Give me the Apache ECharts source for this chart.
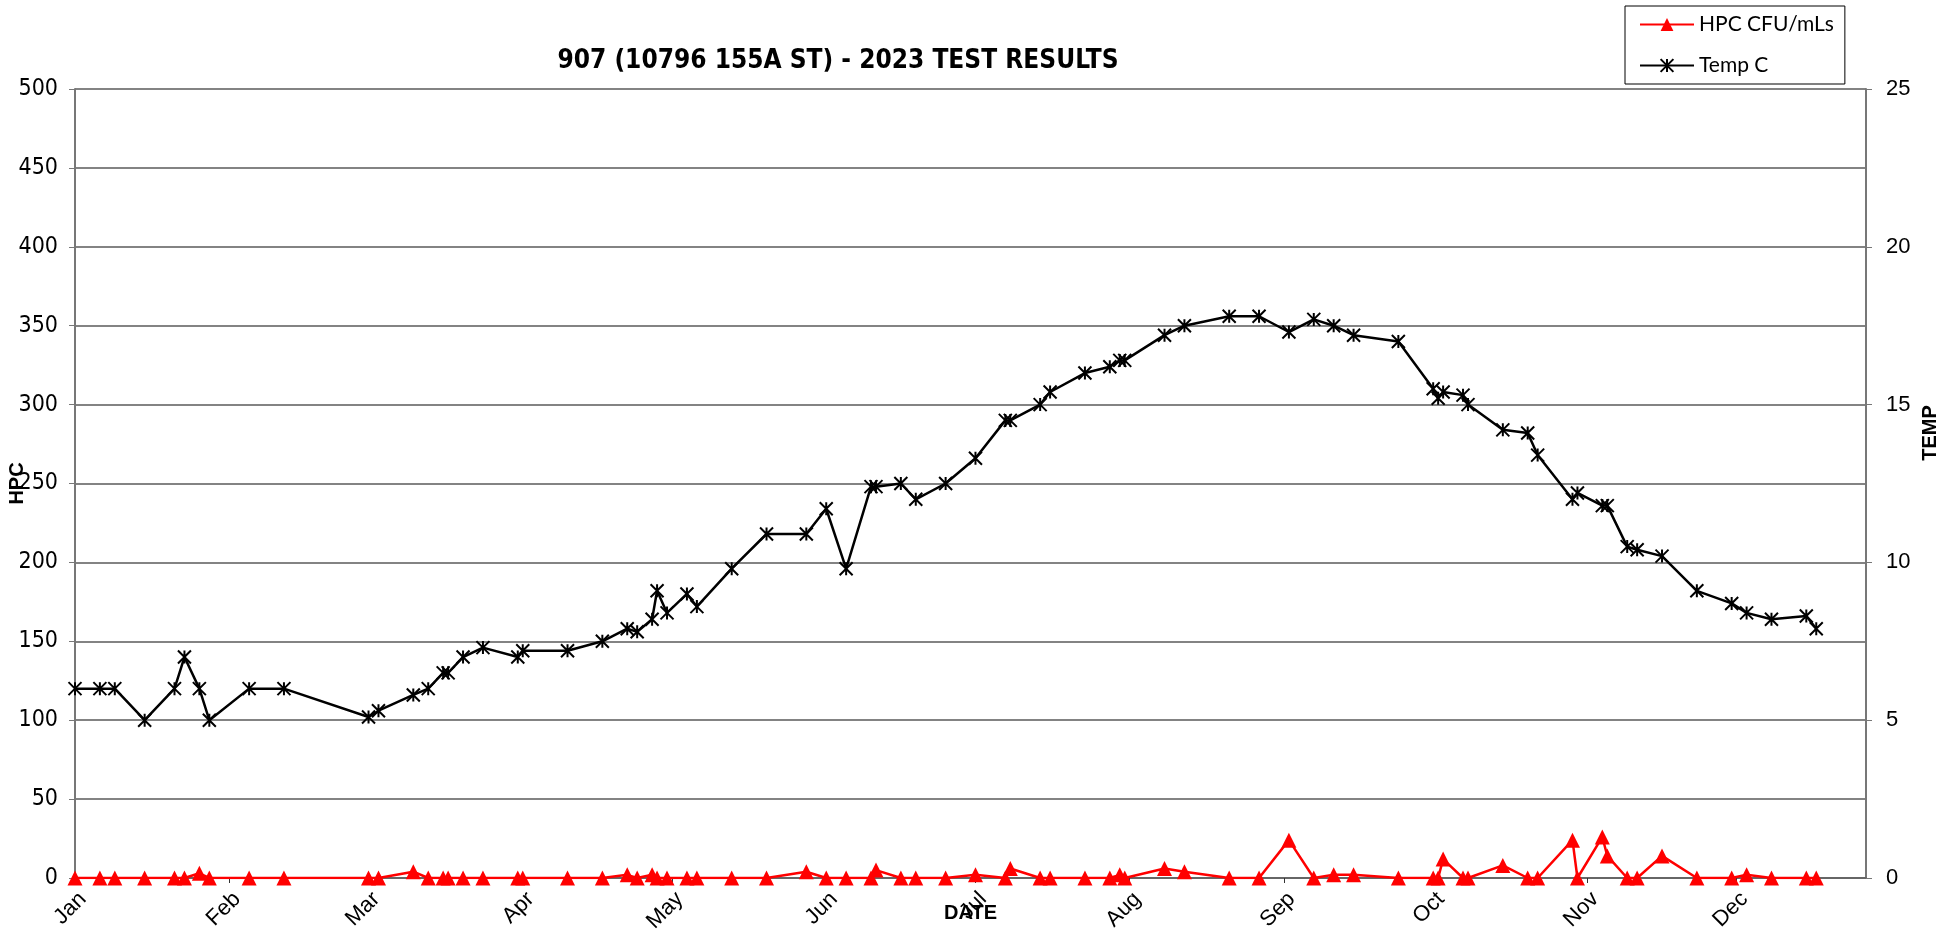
<!DOCTYPE html>
<html>
<head>
<meta charset="utf-8">
<title>907 (10796 155A ST) - 2023 TEST RESULTS</title>
<script src="https://cdn.jsdelivr.net/npm/echarts@6/dist/echarts.min.js"></script>
<style>
  html, body { margin: 0; padding: 0; background: #fff; }
  #myChart { width: 1956px; height: 935px; }
</style>
</head>
<body>
<div id="myChart"></div>
<script>
// month ticks on the date axis
const monthNames = ['Jan', 'Feb', 'Mar', 'Apr', 'May', 'Jun', 'Jul', 'Aug', 'Sep', 'Oct', 'Nov', 'Dec']
const monthTicks = ['2023-01-01', '2023-02-01', '2023-03-01', '2023-04-01', '2023-05-01', '2023-06-01',
  '2023-07-01', '2023-08-01', '2023-09-01', '2023-10-01', '2023-11-01', '2023-12-01']

// sampling days
const sampleDates = [
  '2023-01-01', '2023-01-06', '2023-01-09', '2023-01-15', '2023-01-21', '2023-01-23', '2023-01-26', '2023-01-28',
  '2023-02-05', '2023-02-12',
  '2023-03-01', '2023-03-03', '2023-03-10', '2023-03-13', '2023-03-16', '2023-03-17', '2023-03-20', '2023-03-24', '2023-03-31',
  '2023-04-01', '2023-04-10', '2023-04-17', '2023-04-22', '2023-04-24', '2023-04-27', '2023-04-28', '2023-04-30',
  '2023-05-04', '2023-05-06', '2023-05-13', '2023-05-20', '2023-05-28',
  '2023-06-01', '2023-06-05', '2023-06-10', '2023-06-11', '2023-06-16', '2023-06-19', '2023-06-25',
  '2023-07-01', '2023-07-07', '2023-07-08', '2023-07-14', '2023-07-16', '2023-07-23', '2023-07-28', '2023-07-30', '2023-07-31',
  '2023-08-08', '2023-08-12', '2023-08-21', '2023-08-27',
  '2023-09-02', '2023-09-07', '2023-09-11', '2023-09-15', '2023-09-24',
  '2023-10-01', '2023-10-02', '2023-10-03', '2023-10-07', '2023-10-08', '2023-10-15', '2023-10-20', '2023-10-22', '2023-10-29', '2023-10-30',
  '2023-11-04', '2023-11-05', '2023-11-09', '2023-11-11', '2023-11-16', '2023-11-23', '2023-11-30',
  '2023-12-03', '2023-12-08', '2023-12-15', '2023-12-17'
]

// HPC CFU/mLs
const hpcValues = [
  0, 0, 0, 0, 0, 0, 3, 0,
  0, 0,
  0, 0, 4, 0, 0, 0, 0, 0, 0,
  0, 0, 0, 2, 0, 2, 0, 0,
  0, 0, 0, 0, 4,
  0, 0, 0, 5, 0, 0, 0,
  2, 0, 6, 0, 0, 0, 0, 2, 0,
  6, 4, 0, 0,
  24, 0, 2, 2, 0,
  0, 0, 12, 0, 0, 8, 0, 0, 24, 0,
  26, 14, 0, 0, 14, 0, 0,
  2, 0, 0, 0
]

// Temp C
const tempValues = [
  6.0, 6.0, 6.0, 5.0, 6.0, 7.0, 6.0, 5.0,
  6.0, 6.0,
  5.1, 5.3, 5.8, 6.0, 6.5, 6.5, 7.0, 7.3, 7.0,
  7.2, 7.2, 7.5, 7.9, 7.8, 8.2, 9.1, 8.4,
  9.0, 8.6, 9.8, 10.9, 10.9,
  11.7, 9.8, 12.4, 12.4, 12.5, 12.0, 12.5,
  13.3, 14.5, 14.5, 15.0, 15.4, 16.0, 16.2, 16.4, 16.4,
  17.2, 17.5, 17.8, 17.8,
  17.3, 17.7, 17.5, 17.2, 17.0,
  15.5, 15.2, 15.4, 15.3, 15.0, 14.2, 14.1, 13.4, 12.0, 12.2,
  11.8, 11.8, 10.5, 10.4, 10.2, 9.1, 8.7,
  8.4, 8.2, 8.3, 7.9
]

function toTime(s) {
  const p = s.split('-').map(Number)
  return new Date(p[0], p[1] - 1, p[2]).getTime()
}

const narrowFont = '"Liberation Sans Narrow", "DejaVu Sans Condensed", sans-serif'
const armFont = '"Liberation Sans", Arial, sans-serif'
const asterisk = 'path://M0 0L10 10M10 0L0 10M5 0L5 10'

function initChart() {
  const chart = echarts.init(document.getElementById('myChart'))
  const ticks = monthTicks.map(toTime)

  chart.setOption({
    animation: false,
    title: {
      text: '907 (10796 155A ST) - 2023 TEST RESULTS',
      left: 833,
      top: 43,
      textAlign: 'center',
      textStyle: { fontFamily: narrowFont, fontSize: 26, fontWeight: 'bold', color: '#000' }
    },
    legend: {
      orient: 'vertical',
      left: 1625,
      top: 6,
      padding: [8, 11, 8, 14],
      itemGap: 20,
      itemWidth: 54,
      itemHeight: 16,
      borderColor: '#000',
      borderWidth: 1,
      backgroundColor: '#fff',
      textStyle: { fontFamily: 'Lato, "Open Sans", sans-serif', fontSize: 21, color: '#000' },
      data: ['HPC CFU/mLs', 'Temp C']
    },
    grid: { left: 75, right: 90, top: 89, bottom: 57, containLabel: false, outerBoundsMode: 'none' },
    xAxis: {
      // dates as timestamps on a value axis so month ticks can be placed exactly
      type: 'value',
      min: toTime('2023-01-01'),
      max: toTime('2023-12-27'),
      name: 'DATE',
      nameLocation: 'middle',
      nameGap: 25,
      nameMoveOverlap: false,
      nameTextStyle: { fontFamily: armFont, fontSize: 20, fontWeight: 'bold', color: '#000', verticalAlign: 'top' },
      axisLine: { lineStyle: { color: '#666', width: 2 } },
      axisTick: { show: true, length: 5, customValues: ticks, lineStyle: { color: '#333' } },
      axisLabel: {
        customValues: ticks,
        rotate: 45,
        margin: 10,
        verticalAlign: 'top',
        fontFamily: armFont,
        fontSize: 22,
        color: '#000',
        formatter: function (v) { return monthNames[new Date(v).getMonth()] }
      },
      splitLine: { show: false }
    },
    yAxis: [
      {
        type: 'value',
        min: 0,
        max: 500,
        interval: 50,
        name: 'HPC',
        nameLocation: 'middle',
        nameRotate: 90,
        nameGap: 48,
        nameMoveOverlap: false,
        nameTextStyle: { fontFamily: armFont, fontSize: 20, fontWeight: 'bold', color: '#000' },
        axisLine: { show: true, lineStyle: { color: '#777', width: 2 } },
        axisTick: { show: true, length: 6, lineStyle: { color: '#777' } },
        axisLabel: { margin: 17, fontFamily: narrowFont, fontSize: 23, color: '#000' },
        splitLine: { show: true, lineStyle: { color: '#5a5a5a', width: 1.5 } }
      },
      {
        type: 'value',
        min: 0,
        max: 25,
        interval: 5,
        position: 'right',
        axisLine: { show: true, lineStyle: { color: '#777', width: 2 } },
        axisTick: { show: true, length: 6, lineStyle: { color: '#777' } },
        axisLabel: { margin: 20, fontFamily: armFont, fontSize: 22, color: '#000' },
        splitLine: { show: false }
      }
    ],
    graphic: [
      {
        type: 'text',
        x: 1930,
        y: 433,
        rotation: Math.PI / 2,
        style: {
          text: 'TEMP',
          fontFamily: armFont,
          fontSize: 20,
          fontWeight: 'bold',
          fill: '#000',
          align: 'center',
          verticalAlign: 'middle'
        }
      }
    ],
    series: [
      {
        name: 'HPC CFU/mLs',
        type: 'line',
        yAxisIndex: 0,
        z: 3,
        data: sampleDates.map((d, i) => [toTime(d), hpcValues[i]]),
        symbol: 'triangle',
        symbolSize: 15,
        lineStyle: { color: '#ff0000', width: 2.5 },
        itemStyle: { color: '#ff0000', borderWidth: 0 }
      },
      {
        name: 'Temp C',
        type: 'line',
        yAxisIndex: 1,
        z: 2,
        data: sampleDates.map((d, i) => [toTime(d), tempValues[i]]),
        symbol: asterisk,
        symbolSize: 13,
        lineStyle: { color: '#000', width: 2.5 },
        itemStyle: { color: '#000', borderColor: '#000', borderWidth: 2 }
      }
    ]
  })
}

initChart()
</script>
</body>
</html>
